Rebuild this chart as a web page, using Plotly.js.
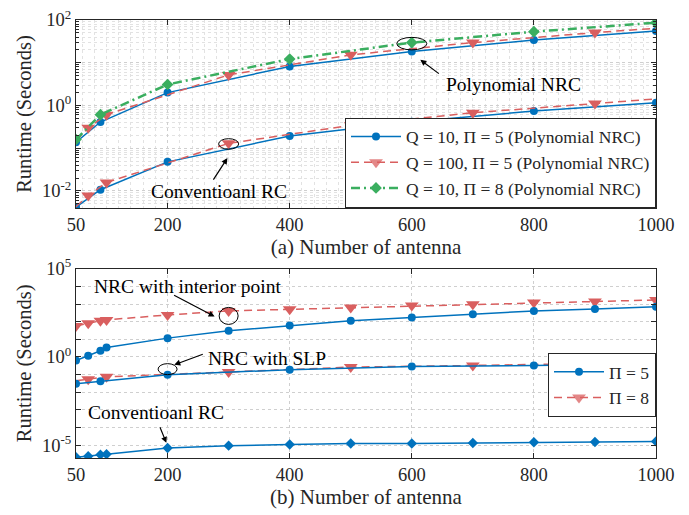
<!DOCTYPE html>
<html>
<head>
<meta charset="utf-8">
<script src="https://cdn.plot.ly/plotly-3.0.1.min.js"></script>
<style>html,body{margin:0;padding:0;background:#fff;}#chart{width:689px;height:515px;}</style>
</head>
<body>
<div id="chart"></div>
<script>
// ---------------- Data (a) ----------------
const antennaA_circ = [50, 90, 200, 400, 600, 800, 1000];
const antennaA_tri  = [50, 70, 100, 300, 500, 700, 900, 1000];
const polyQ10P5  = [0.138, 0.41, 2.0, 8.2, 18.3, 34, 55];
const polyQ100P5 = [0.15, 0.30, 0.61, 5.2, 15.3, 29.6, 50.7, 64];
const polyQ10P8  = [0.16, 0.61, 3.1, 12.2, 29.6, 53.3, 86.5];
const convQ10P5  = [0.0042, 0.0107, 0.048, 0.193, 0.417, 0.74, 1.16];
const convQ100P5 = [0.0043, 0.0078, 0.0158, 0.13, 0.343, 0.676, 1.11, 1.43];

// ---------------- Data (b) ----------------
const antennaB      = [50, 70, 90, 100, 200, 300, 400, 500, 600, 700, 800, 900, 1000];
const antennaB_circ = [50, 90, 200, 400, 600, 800, 1000];
const antennaB_tri  = [50, 70, 100, 300, 500, 700, 900, 1000];
const interiorP8 = [57.5, 82.2, 112, 126, 240, 407, 501, 631, 813, 977, 1202, 1380, 1700];
const interiorP5 = [0.63, 1.17, 2.24, 3.47, 11.7, 30.2, 60.3, 112, 170, 263, 407, 525, 708];
const slpP8 = [0.0457, 0.055, 0.0759, 0.141, 0.269, 0.331, 0.457, 0.49];
const slpP5 = [0.0309, 0.0417, 0.1, 0.19, 0.288, 0.331, 0.417];
const convRC_B = [2.09e-6, 2.4e-6, 2.95e-6, 3.09e-6, 7.08e-6, 9.55e-6, 1.1e-5, 1.26e-5, 1.26e-5, 1.35e-5, 1.48e-5, 1.55e-5, 1.66e-5];

const legendA = ['Q = 10, \u03A0 = 5 (Polynomial NRC)', 'Q = 100, \u03A0 = 5 (Polynomial NRC)', 'Q = 10, \u03A0 = 8 (Polynomial NRC)'];
const legendB = ['\u03A0 = 5', '\u03A0 = 8'];
const xTicks = [50, 200, 400, 600, 800, 1000];

// ---------------- Styles ----------------
const BLUE = '#0072BD', RED = '#D95F5F', GREEN = '#3AAE5F';
const FONT = 'Times New Roman, Liberation Serif, Tinos, DejaVu Serif, serif';
const TXT = '#262626';
const TICK = 18.5, TITLE = 21, ANN = 19.5, LEG = 17.5;
// end points of the triangle series carry the line but no visible marker
const endHidden = xs => xs.map(x => (x === 50 || x === 1000) ? 0 : 1);

const blueLine = {color: BLUE, width: 1.5};
const redLine = {color: RED, width: 1.5, dash: '8px,5px'};
const greenLine = {color: GREEN, width: 2.5, dash: '9px,4px,2px,4px'};

const traces = [
  {x: antennaA_circ, y: polyQ10P5, xaxis: 'x', yaxis: 'y', mode: 'lines+markers', name: legendA[0],
   line: blueLine, marker: {symbol: 'circle', size: 8, color: BLUE}, legend: 'legend'},
  {x: antennaA_tri, y: polyQ100P5, xaxis: 'x', yaxis: 'y', mode: 'lines+markers', name: legendA[1],
   line: redLine, marker: {symbol: 'triangle-down', size: 12, color: RED, opacity: endHidden(antennaA_tri)}, legend: 'legend'},
  {x: antennaA_circ, y: polyQ10P8, xaxis: 'x', yaxis: 'y', mode: 'lines+markers', name: legendA[2],
   line: greenLine, marker: {symbol: 'diamond', size: 9, color: GREEN}, legend: 'legend'},
  {x: antennaA_circ, y: convQ10P5, xaxis: 'x', yaxis: 'y', mode: 'lines+markers', showlegend: false,
   line: blueLine, marker: {symbol: 'circle', size: 8, color: BLUE}},
  {x: antennaA_tri, y: convQ100P5, xaxis: 'x', yaxis: 'y', mode: 'lines+markers', showlegend: false,
   line: redLine, marker: {symbol: 'triangle-down', size: 12, color: RED, opacity: endHidden(antennaA_tri)}},

  {x: antennaB, y: interiorP8, xaxis: 'x2', yaxis: 'y2', mode: 'lines+markers', showlegend: false,
   line: redLine, marker: {symbol: 'triangle-down', size: 12, color: RED}},
  {x: antennaB, y: interiorP5, xaxis: 'x2', yaxis: 'y2', mode: 'lines+markers', showlegend: false,
   line: blueLine, marker: {symbol: 'circle', size: 8, color: BLUE}},
  {x: antennaB_tri, y: slpP8, xaxis: 'x2', yaxis: 'y2', mode: 'lines+markers', name: legendB[1],
   line: redLine, marker: {symbol: 'triangle-down', size: 12, color: RED, opacity: endHidden(antennaB_tri)}, legend: 'legend2'},
  {x: antennaB_circ, y: slpP5, xaxis: 'x2', yaxis: 'y2', mode: 'lines+markers', name: legendB[0],
   line: blueLine, marker: {symbol: 'circle', size: 8, color: BLUE}, legend: 'legend2'},
  {x: antennaB, y: convRC_B, xaxis: 'x2', yaxis: 'y2', mode: 'lines+markers', showlegend: false,
   line: blueLine, marker: {symbol: 'diamond', size: 8, color: BLUE}}
];

// decade / minor tick positions
function decades(lo, hi) { const a = []; for (let e = lo; e <= hi; e++) a.push(Math.pow(10, e)); return a; }
function minors(lo, hi) { const a = []; for (let e = lo; e <= hi; e++) for (let m = 2; m <= 9; m++) a.push(m * Math.pow(10, e)); return a; }
const decA = decades(-2, 2);
const decAtext = decA.map(v => { const e = Math.round(Math.log10(v)); return (e % 2 === 0) ? '10<sup>' + e + '</sup>' : ''; });
const decB = decades(-5, 5);
const decBtext = decB.map(v => { const e = Math.round(Math.log10(v)); return (e % 5 === 0) ? '10<sup>' + e + '</sup>' : ''; });
const xMinor = []; for (let v = 60; v < 1000; v += 20) xMinor.push(v);

const gridMajor = '#cfcfcf', gridMinor = '#e2e2e2';
const baseX = {
  type: 'linear', range: [50, 1000], tickmode: 'array', tickvals: xTicks,
  ticks: 'inside', ticklen: 5, tickcolor: TXT, showline: true, linecolor: TXT, linewidth: 1, mirror: 'allticks',
  showgrid: true, gridcolor: gridMajor, griddash: 'dot', gridwidth: 1, zeroline: false,
  tickfont: {family: FONT, size: TICK, color: TXT}
};
const baseY = {
  type: 'log', ticks: 'inside', ticklen: 5, tickcolor: TXT, showline: true, linecolor: TXT, linewidth: 1, mirror: 'allticks',
  showgrid: true, gridcolor: gridMajor, griddash: 'dot', gridwidth: 1, zeroline: false,
  tickmode: 'array', tickfont: {family: FONT, size: TICK, color: TXT},
  title: {text: 'Runtime (Seconds)', font: {family: FONT, size: 20.5, color: TXT}, standoff: 4}
};

const layout = {
  width: 689, height: 515,
  margin: {l: 76, r: 33, t: 20, b: 57},
  paper_bgcolor: '#ffffff', plot_bgcolor: '#ffffff',
  font: {family: FONT, size: TICK, color: TXT},
  showlegend: true,
  xaxis: Object.assign({}, baseX, {anchor: 'y', domain: [0, 1],
    minor: {tickmode: 'array', tickvals: xMinor, ticks: '', showgrid: true, gridcolor: gridMinor, griddash: 'dot', gridwidth: 1},
    title: {text: '(a) Number of antenna', font: {family: FONT, size: TITLE, color: TXT}, standoff: 0}}),
  yaxis: Object.assign({}, baseY, {anchor: 'x', domain: [0.5708, 1], range: [Math.log10(0.004), 2],
    tickvals: decA, ticktext: decAtext,
    minor: {tickmode: 'array', tickvals: minors(-3, 1), ticks: 'inside', ticklen: 3, tickcolor: TXT, showgrid: true, gridcolor: gridMinor, griddash: 'dot', gridwidth: 1}}),
  xaxis2: Object.assign({}, baseX, {anchor: 'y2', domain: [0, 1],
    title: {text: '(b) Number of antenna', font: {family: FONT, size: TITLE, color: TXT}, standoff: 0}}),
  yaxis2: Object.assign({}, baseY, {anchor: 'x2', domain: [0, 0.4322], range: [-5.72, 5],
    tickvals: decB, ticktext: decBtext}),
  legend: {x: 1, xanchor: 'right', y: 0.5718, yanchor: 'bottom', bgcolor: '#ffffff', bordercolor: TXT, borderwidth: 1,
    font: {family: FONT, size: LEG, color: TXT}, itemwidth: 50, tracegroupgap: 0},
  legend2: {x: 1, xanchor: 'right', y: 0.094, yanchor: 'bottom', bgcolor: '#ffffff', bordercolor: TXT, borderwidth: 1,
    font: {family: FONT, size: LEG, color: TXT}, itemwidth: 50, traceorder: 'reversed'},
  shapes: [
    {type: 'circle', xref: 'x', yref: 'y', xsizemode: 'pixel', ysizemode: 'pixel', xanchor: 300, yanchor: 0.095, x0: -10, x1: 10, y0: -10.5, y1: 10.5, line: {color: '#000', width: 1}},
    {type: 'circle', xref: 'x', yref: 'y', xsizemode: 'pixel', ysizemode: 'pixel', xanchor: 600, yanchor: 20, x0: -15, x1: 15, y0: -12.5, y1: 12.5, line: {color: '#000', width: 1}},
    {type: 'circle', xref: 'x2', yref: 'y2', xsizemode: 'pixel', ysizemode: 'pixel', xanchor: 300, yanchor: 70, x0: -9.5, x1: 9.5, y0: -17, y1: 17, line: {color: '#000', width: 1}},
    {type: 'circle', xref: 'x2', yref: 'y2', xsizemode: 'pixel', ysizemode: 'pixel', xanchor: 200, yanchor: 0.1, x0: -9.5, x1: 9.5, y0: -11, y1: 11, line: {color: '#000', width: 1}}
  ],
  annotations: [
    {xref: 'x', yref: 'y', x: 285, y: -2.02, text: 'Conventioanl RC', showarrow: false, font: {family: FONT, size: ANN, color: '#000'}},
    {xref: 'x', yref: 'y', x: 298, y: -1.23, ax: -15, ay: 23, text: '', showarrow: true, arrowhead: 2, arrowsize: 1, arrowwidth: 1.2, arrowcolor: '#000', standoff: 0},
    {xref: 'x', yref: 'y', x: 767, y: 0.49, text: 'Polynomial NRC', showarrow: false, font: {family: FONT, size: ANN, color: '#000'}},
    {xref: 'x', yref: 'y', x: 614, y: 1.07, ax: 20, ay: 15, text: '', showarrow: true, arrowhead: 2, arrowsize: 1, arrowwidth: 1.2, arrowcolor: '#000', standoff: 0},

    {xref: 'x2', yref: 'y2', x: 232, y: 3.98, text: 'NRC with interior point', showarrow: false, font: {family: FONT, size: ANN, color: '#000'}},
    {xref: 'x2', yref: 'y2', x: 277, y: 2.29, ax: -42, ay: -22, text: '', showarrow: true, arrowhead: 2, arrowsize: 1, arrowwidth: 1.2, arrowcolor: '#000', standoff: 0},
    {xref: 'x2', yref: 'y2', x: 363, y: -0.06, text: 'NRC with SLP', showarrow: false, font: {family: FONT, size: ANN, color: '#000'}},
    {xref: 'x2', yref: 'y2', x: 211, y: -0.44, ax: 30, ay: -11, text: '', showarrow: true, arrowhead: 2, arrowsize: 1, arrowwidth: 1.2, arrowcolor: '#000', standoff: 0},
    {xref: 'x2', yref: 'y2', x: 181, y: -3.17, text: 'Conventioanl RC', showarrow: false, font: {family: FONT, size: ANN, color: '#000'}},
    {xref: 'x2', yref: 'y2', x: 198, y: -4.86, ax: -7, ay: -17, text: '', showarrow: true, arrowhead: 2, arrowsize: 1, arrowwidth: 1.2, arrowcolor: '#000', standoff: 0}
  ]
};

Plotly.newPlot('chart', traces, layout, {staticPlot: true, displayModeBar: false});
</script>
</body>
</html>
